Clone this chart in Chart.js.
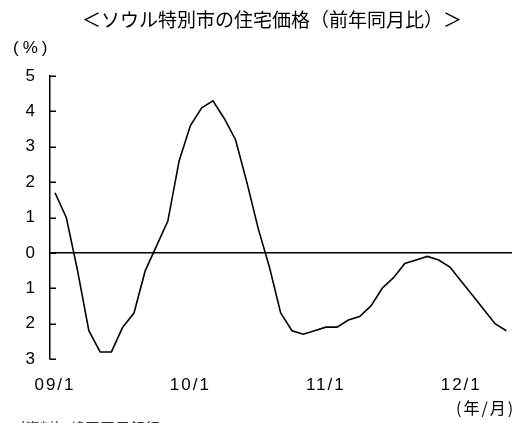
<!DOCTYPE html>
<html>
<head>
<meta charset="utf-8">
<script src="https://cdn.jsdelivr.net/npm/chart.js@4.4.0/dist/chart.umd.min.js"></script>
<style>
  html, body { margin: 0; padding: 0; background: #fff; }
  #wrap { width: 521px; height: 423px; position: relative; }
</style>
</head>
<body>
<div id="wrap"><canvas id="c" width="521" height="423"></canvas></div>
<script>
// Seoul housing prices, year-on-year change (%), monthly from 2009/1 to 2012/5
const yoyChange = [
  1.7, 1.0, -0.5, -2.2, -2.8, -2.8, -2.1, -1.7, -0.5, 0.2, 0.9, 2.6,
  3.6, 4.1, 4.3, 3.8, 3.2, 2.0, 0.7, -0.4, -1.7, -2.2, -2.3, -2.2,
  -2.1, -2.1, -1.9, -1.8, -1.5, -1.0, -0.7, -0.3, -0.2, -0.1, -0.2, -0.4,
  -0.8, -1.2, -1.6, -2.0, -2.2
];
// January of each year sits at these month indices
const xTickPositions = [0, 12, 24, 36];
const xTickLabels = ['09/1', '10/1', '11/1', '12/1'];
// y tick values -3 .. 5 and their printed labels
const yTickValues = [-3, -2, -1, 0, 1, 2, 3, 4, 5];
const yTickLabels = ['3', '2', '1', '0', '1', '2', '3', '4', '5'];

const titleText = '＜ソウル特別市の住宅価格（前年同月比）＞';
const yUnitText = '(%)';
const xUnitText = '(年/月)';
const sourceText = '（資料）韓国国民銀行';

const FONT = '"Noto Sans CJK JP", "Liberation Sans", sans-serif';
const NUM_FONT = '"Liberation Sans", Arial, sans-serif';

const points = yoyChange.map((v, i) => ({ x: i, y: v }));

// slightly spaced lettering for the axis labels
const spacing = {
  id: 'spacing',
  beforeDraw(chart) { chart.ctx.letterSpacing = '2px'; },
  afterDraw(chart) { chart.ctx.letterSpacing = '0px'; }
};

// short tick marks pointing into the plot from the y axis
const innerTicks = {
  id: 'innerTicks',
  afterDatasetsDraw(chart) {
    const { ctx, chartArea } = chart;
    const y = chart.scales.y;
    ctx.save();
    ctx.strokeStyle = '#000';
    ctx.lineWidth = 1.5;
    ctx.beginPath();
    yTickValues.forEach(v => {
      const py = Math.round(y.getPixelForValue(v)) + 0.25;
      ctx.moveTo(chartArea.left, py);
      ctx.lineTo(chartArea.left + 6, py);
    });
    ctx.stroke();
    ctx.restore();
  }
};

// title, unit captions and source note
const captions = {
  id: 'captions',
  afterDraw(chart) {
    const { ctx } = chart;
    ctx.save();
    ctx.fillStyle = '#000';
    ctx.textBaseline = 'middle';
    ctx.textAlign = 'center';
    ctx.letterSpacing = '0px';
    ctx.font = '19px ' + FONT;
    ctx.fillText(titleText, 272, 20);
    ctx.textAlign = 'left';
    ctx.letterSpacing = '4px';
    ctx.font = '17px ' + NUM_FONT;
    ctx.fillText(yUnitText, 13, 48);
    ctx.letterSpacing = '2px';
    ctx.font = '16px ' + FONT;
    ctx.fillText(xUnitText, 456, 408);
    ctx.letterSpacing = '0px';
    ctx.textBaseline = 'top';
    ctx.fillStyle = '#333';
    ctx.font = '15px ' + FONT;
    ctx.fillText(sourceText, 10, 421);
    ctx.restore();
  }
};

new Chart(document.getElementById('c'), {
  type: 'line',
  data: {
    datasets: [{
      data: points,
      borderColor: '#000',
      borderWidth: 1.6,
      pointRadius: 0,
      tension: 0,
      fill: false,
      clip: false
    }]
  },
  options: {
    responsive: false,
    animation: false,
    devicePixelRatio: 1,
    layout: { padding: { top: 76, right: 9, left: 0, bottom: 0 } },
    plugins: { legend: { display: false }, title: { display: false }, tooltip: { enabled: false } },
    scales: {
      x: {
        type: 'linear',
        min: -0.443,
        max: 40.5,
        afterBuildTicks: s => { s.ticks = xTickPositions.map(v => ({ value: v })); },
        afterFit: s => { s.height = 64; },
        grid: { display: false, drawTicks: false },
        border: { display: false },
        ticks: {
          autoSkip: false,
          maxRotation: 0,
          padding: 16,
          color: '#000',
          font: { size: 17, family: NUM_FONT },
          callback: v => xTickLabels[xTickPositions.indexOf(v)]
        }
      },
      y: {
        min: -3,
        max: 5,
        afterBuildTicks: s => { s.ticks = yTickValues.map(v => ({ value: v })); },
        afterFit: s => { s.width = 50; },
        grid: {
          drawTicks: false,
          lineWidth: 1.5,
          color: c => (c.tick && c.tick.value === 0) ? '#000' : 'rgba(0,0,0,0)'
        },
        border: { display: true, color: '#000', width: 1.5 },
        ticks: {
          padding: 13,
          color: '#000',
          font: { size: 17, family: NUM_FONT },
          callback: v => yTickLabels[yTickValues.indexOf(v)]
        }
      }
    }
  },
  plugins: [spacing, innerTicks, captions]
});
</script>
</body>
</html>
